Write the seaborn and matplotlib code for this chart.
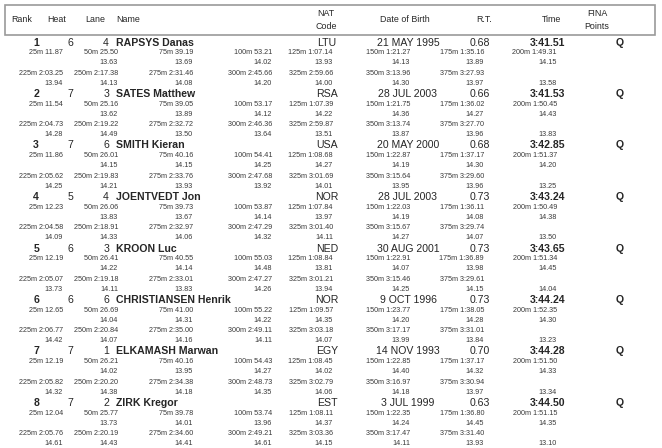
import matplotlib
matplotlib.use("Agg")
import matplotlib.pyplot as plt
import seaborn as sns
import pandas as pd
from matplotlib.patches import Rectangle

ranks = [1, 2, 3, 4, 5, 6, 7, 8]
heats = [6, 7, 7, 5, 6, 6, 7, 7]
lanes = [4, 3, 6, 4, 3, 6, 1, 2]
names = ["RAPSYS Danas", "SATES Matthew", "SMITH Kieran", "JOENTVEDT Jon",
         "KROON Luc", "CHRISTIANSEN Henrik", "ELKAMASH Marwan", "ZIRK Kregor"]
nats = ["LTU", "RSA", "USA", "NOR", "NED", "NOR", "EGY", "EST"]
dobs = ["21 MAY 1995", "28 JUL 2003", "20 MAY 2000", "28 JUL 2003",
        "30 AUG 2001", "9 OCT 1996", "14 NOV 1993", "3 JUL 1999"]
rts = ["0.68", "0.66", "0.68", "0.73", "0.73", "0.73", "0.70", "0.63"]
times = ["3:41.51", "3:41.53", "3:42.85", "3:43.24", "3:43.65", "3:44.24", "3:44.28", "3:44.50"]
quals = ["Q"] * 8

distances = ["25m", "50m", "75m", "100m", "125m", "150m", "175m", "200m",
             "225m", "250m", "275m", "300m", "325m", "350m", "375m"]

# cumulative splits 25m..375m
splits = [
    ["11.87", "25.50", "39.19", "53.21", "1:07.14", "1:21.27", "1:35.16", "1:49.31",
     "2:03.25", "2:17.38", "2:31.46", "2:45.66", "2:59.66", "3:13.96", "3:27.93"],
    ["11.54", "25.16", "39.05", "53.17", "1:07.39", "1:21.75", "1:36.02", "1:50.45",
     "2:04.73", "2:19.22", "2:32.72", "2:46.36", "2:59.87", "3:13.74", "3:27.70"],
    ["11.86", "26.01", "40.16", "54.41", "1:08.68", "1:22.87", "1:37.17", "1:51.37",
     "2:05.62", "2:19.83", "2:33.76", "2:47.68", "3:01.69", "3:15.64", "3:29.60"],
    ["12.23", "26.06", "39.73", "53.87", "1:07.84", "1:22.03", "1:36.11", "1:50.49",
     "2:04.58", "2:18.91", "2:32.97", "2:47.29", "3:01.40", "3:15.67", "3:29.74"],
    ["12.19", "26.41", "40.55", "55.03", "1:08.84", "1:22.91", "1:36.89", "1:51.34",
     "2:05.07", "2:19.18", "2:33.01", "2:47.27", "3:01.21", "3:15.46", "3:29.61"],
    ["12.65", "26.69", "41.00", "55.22", "1:09.57", "1:23.77", "1:38.05", "1:52.35",
     "2:06.77", "2:20.84", "2:35.00", "2:49.11", "3:03.18", "3:17.17", "3:31.01"],
    ["12.19", "26.21", "40.16", "54.43", "1:08.45", "1:22.85", "1:37.17", "1:51.50",
     "2:05.82", "2:20.20", "2:34.38", "2:48.73", "3:02.79", "3:16.97", "3:30.94"],
    ["12.04", "25.77", "39.78", "53.74", "1:08.11", "1:22.35", "1:36.80", "1:51.15",
     "2:05.76", "2:20.19", "2:34.60", "2:49.21", "3:03.36", "3:17.47", "3:31.40"],
]

# lap times 50m..400m
laps = [
    ["13.63", "13.69", "14.02", "13.93", "14.13", "13.89", "14.15",
     "13.94", "14.13", "14.08", "14.20", "14.00", "14.30", "13.97", "13.58"],
    ["13.62", "13.89", "14.12", "14.22", "14.36", "14.27", "14.43",
     "14.28", "14.49", "13.50", "13.64", "13.51", "13.87", "13.96", "13.83"],
    ["14.15", "14.15", "14.25", "14.27", "14.19", "14.30", "14.20",
     "14.25", "14.21", "13.93", "13.92", "14.01", "13.95", "13.96", "13.25"],
    ["13.83", "13.67", "14.14", "13.97", "14.19", "14.08", "14.38",
     "14.09", "14.33", "14.06", "14.32", "14.11", "14.27", "14.07", "13.50"],
    ["14.22", "14.14", "14.48", "13.81", "14.07", "13.98", "14.45",
     "13.73", "14.11", "13.83", "14.26", "13.94", "14.25", "14.15", "14.04"],
    ["14.04", "14.31", "14.22", "14.35", "14.20", "14.28", "14.30",
     "14.42", "14.07", "14.16", "14.11", "14.07", "13.99", "13.84", "13.23"],
    ["14.02", "13.95", "14.27", "14.02", "14.40", "14.32", "14.33",
     "14.32", "14.38", "14.18", "14.35", "14.06", "14.18", "13.97", "13.34"],
    ["13.73", "14.01", "13.96", "14.37", "14.24", "14.45", "14.35",
     "14.61", "14.43", "14.41", "14.61", "14.15", "14.11", "13.93", "13.10"],
]

df = pd.DataFrame({"rank": ranks, "heat": heats, "lane": lanes, "name": names,
                   "nat": nats, "dob": dobs, "rt": rts, "time": times, "q": quals})

sns.set_theme(style="white")
plt.rcParams["font.family"] = ["Liberation Sans", "DejaVu Sans"]

fig = plt.figure(figsize=(6.62, 4.48), dpi=100)
ax = fig.add_axes([0, 0, 1, 1])
ax.set_xlim(0, 662)
ax.set_ylim(448, 0)
ax.axis("off")

# header box
ax.add_patch(Rectangle((5, 5), 650, 30, fill=False, edgecolor="#9a9a9a", lw=1.2))
hs = 6.4
ax.text(22, 20, "Rank", ha="center", va="center", fontsize=hs)
ax.text(57, 20, "Heat", ha="center", va="center", fontsize=hs)
ax.text(95, 20, "Lane", ha="center", va="center", fontsize=hs)
ax.text(116, 20, "Name", ha="left", va="center", fontsize=hs)
ax.text(326, 20, "NAT\nCode", ha="center", va="center", fontsize=hs, linespacing=1.5)
ax.text(405, 20, "Date of Birth", ha="center", va="center", fontsize=hs)
ax.text(484, 20, "R.T.", ha="center", va="center", fontsize=hs)
ax.text(552, 20, "Time", ha="center", va="center", fontsize=hs)
ax.text(597, 20, "FINA\nPoints", ha="center", va="center", fontsize=hs, linespacing=1.5)

col_right = [63, 118, 193, 272, 333, 410, 484, 557]
ms = 7.6
ss = 5.2
split_color = "#3a3a3a"


def small(x, y, s):
    ax.text(x, y, s, ha="right", va="center", fontsize=ss, color=split_color)


for i, row in df.iterrows():
    y = 42.5 + 51.5 * i
    ax.text(39, y, str(row["rank"]), ha="right", va="center", fontsize=ms, fontweight="bold")
    ax.text(73, y, str(row["heat"]), ha="right", va="center", fontsize=ms)
    ax.text(109, y, str(row["lane"]), ha="right", va="center", fontsize=ms)
    ax.text(116, y, row["name"], ha="left", va="center", fontsize=ms, fontweight="bold")
    ax.text(327, y, row["nat"], ha="center", va="center", fontsize=ms)
    ax.text(408, y, row["dob"], ha="center", va="center", fontsize=ms)
    ax.text(490, y, row["rt"], ha="right", va="center", fontsize=ms)
    ax.text(565, y, row["time"], ha="right", va="center", fontsize=ms, fontweight="bold")
    ax.text(620, y, row["q"], ha="center", va="center", fontsize=ms, fontweight="bold")

    sp = splits[i]
    lp = laps[i]
    dy = 10.2
    for k in range(8):
        x = col_right[k]
        small(x, y + dy, f"{distances[k]} {sp[k]}")
        if k > 0:
            small(x, y + 2 * dy, lp[k - 1])
    for k in range(8):
        x = col_right[k]
        if k < 7:
            small(x, y + 3 * dy, f"{distances[8 + k]} {sp[8 + k]}")
        small(x, y + 4 * dy, lp[7 + k])

fig.savefig("out.png", dpi=100)
